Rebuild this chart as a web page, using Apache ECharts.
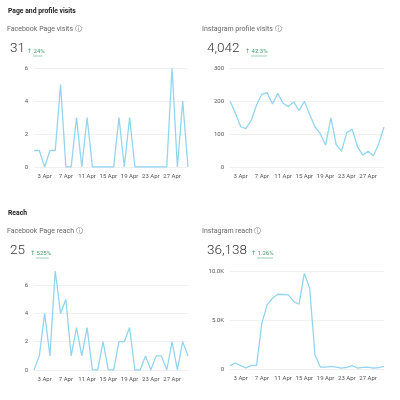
<!DOCTYPE html>
<html><head><meta charset="utf-8">
<script src="https://cdn.jsdelivr.net/npm/echarts@6/dist/echarts.min.js"></script>
<style>html,body{margin:0;padding:0;background:#fff}#c{width:400px;height:400px}</style>
</head><body><div id="c"></div>
<script>
const days = [];
for (let d = 1; d <= 30; d++) days.push(d + ' Apr');
const fbVisits = [1,1,0,1,1,5,0,0,3,0,3,0,0,0,0,0,3,0,3,0,0,0,0,0,0,0,6,0,4,0];
const igVisits = [200,164,122,116,141,188,221,225,191,223,193,183,197,171,199,159,122,101,66,149,68,48,105,114,62,36,48,34,70,121];
const fbReach = [0,1,4,1,7,4,5,1,3,1,3,0,0,2,0,0,2,2,3,0,0,1,0,1,1,0,2,0,2,1];
const igReach = [340,610,340,100,370,370,4680,6540,7220,7630,7600,7560,6880,6610,9760,8240,1460,200,200,270,200,100,170,340,100,170,200,100,140,270];
const sectionTitles = ['Page and profile visits', 'Reach'];
const panelTitles = ['Facebook Page visits', 'Instagram profile visits', 'Facebook Page reach', 'Instagram reach'];
const totals = ['31', '4,042', '25', '36,138'];
const changes = ['24%', '42.3%', '525%', '1.26%'];

const chart = echarts.init(document.getElementById('c'), null, {renderer: 'canvas'});
const FONT = 'Roboto, "Noto Sans", "DejaVu Sans", sans-serif';
const LINE = '#93d5f0';
const GRIDC = '#ececec';

const grids = [
  {left: 34, right: 212, top: 68, bottom: 233},
  {left: 230, right: 16, top: 68, bottom: 233},
  {left: 34, right: 212, top: 271, bottom: 30},
  {left: 230, right: 16, top: 271, bottom: 31}
];
const heads = [
  {x: 7, y: 31, nx: 10, ny: 51, px: 27},
  {x: 202, y: 31, nx: 207, ny: 51, px: 245},
  {x: 7, y: 233, nx: 10, ny: 253, px: 30},
  {x: 202, y: 233, nx: 207, ny: 253, px: 251}
];
const graphic = [];
graphic.push({type: 'text', left: 8, top: 8, style: {text: sectionTitles[0], font: 'bold 6.8px ' + FONT, fill: '#222'}});
graphic.push({type: 'text', left: 8, top: 210, style: {text: sectionTitles[1], font: 'bold 6.8px ' + FONT, fill: '#222'}});
heads.forEach((h, i) => {
  graphic.push({type: 'text', left: h.x, top: h.y - 5, style: {text: panelTitles[i] + ' \u24D8', font: '7px ' + FONT, fill: '#666'}});
  graphic.push({type: 'text', left: h.nx, top: h.ny - 9, style: {text: totals[i], font: '300 13.5px ' + FONT, fill: '#333'}});
  graphic.push({type: 'text', left: h.px, top: h.ny - 3, style: {text: '\u2191 ' + changes[i], font: '6px ' + FONT, fill: '#3f9e6a'}});
  graphic.push({type: 'line', shape: {x1: h.px + 6, y1: h.ny + 5, x2: h.px + 6 + changes[i].length * 3.2, y2: h.ny + 5}, style: {stroke: '#3f9e6a', lineWidth: 0.5}});
});

const xAxes = grids.map((g, i) => ({
  type: 'category', gridIndex: i, data: days, boundaryGap: false,
  axisLine: {show: false}, axisTick: {show: false},
  axisLabel: {interval: (idx) => idx % 4 === 2, fontSize: 6, color: '#555', margin: 6, fontFamily: FONT}
}));
const baseY = (i, extra) => Object.assign({
  type: 'value', gridIndex: i,
  axisLine: {show: false}, axisTick: {show: false},
  axisLabel: {fontSize: 6, color: '#555', margin: 6, fontFamily: FONT},
  splitLine: {lineStyle: {color: GRIDC, width: 0.8}}
}, extra);
const yAxes = [
  baseY(0, {min: 0, max: 6, interval: 2}),
  baseY(1, {min: 0, max: 300, interval: 100}),
  baseY(2, {min: 0, max: 7, interval: 2,
    axisLabel: {fontSize: 6, color: '#555', margin: 6, fontFamily: FONT, showMaxLabel: false},
    splitLine: {lineStyle: {color: [GRIDC, GRIDC, GRIDC, GRIDC, 'rgba(0,0,0,0)'], width: 0.8}}}),
  baseY(3, {min: 0, max: 10000, interval: 5000,
    axisLabel: {fontSize: 6, color: '#555', margin: 6, fontFamily: FONT,
      formatter: v => v === 0 ? '0' : (v / 1000).toFixed(1) + 'K'}})
];
const datas = [fbVisits, igVisits, fbReach, igReach];
const series = datas.map((d, i) => ({
  type: 'line', xAxisIndex: i, yAxisIndex: i, data: d, showSymbol: false,
  lineStyle: {color: LINE, width: 1.3}, itemStyle: {color: LINE}, animation: false
}));

chart.setOption({
  animation: false,
  grid: grids,
  xAxis: xAxes,
  yAxis: yAxes,
  series: series,
  graphic: graphic
});
</script></body></html>
